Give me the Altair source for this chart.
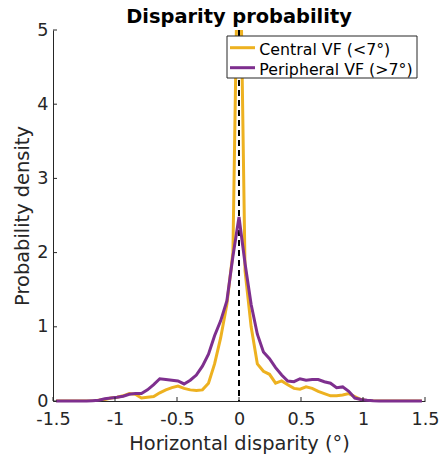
import altair as alt
import pandas as pd

# x grid (bin centres, degrees)
disparity = [-1.475, -1.426, -1.377, -1.328, -1.278, -1.229, -1.18, -1.131, -1.082, -1.033,
             -0.983, -0.934, -0.885, -0.836, -0.787, -0.738, -0.688, -0.639, -0.59, -0.541,
             -0.492, -0.443, -0.393, -0.344, -0.295, -0.246, -0.197, -0.148, -0.098, -0.049,
             0.0,
             0.049, 0.098, 0.148, 0.197, 0.246, 0.295, 0.344, 0.393, 0.443, 0.492,
             0.541, 0.59, 0.639, 0.688, 0.738, 0.787, 0.836, 0.885, 0.934, 0.983,
             1.033, 1.082, 1.131, 1.18, 1.229, 1.278, 1.328, 1.377, 1.426, 1.475]

central = [0, 0, 0, 0, 0, 0, 0, 0.01, 0.02, 0.04,
           0.05, 0.07, 0.1, 0.09, 0.04, 0.05, 0.06, 0.11, 0.15, 0.18,
           0.2, 0.17, 0.15, 0.14, 0.15, 0.24, 0.5, 0.85, 1.3, 2.0,
           7.3,
           1.75, 1.0, 0.5, 0.4, 0.36, 0.24, 0.27, 0.22, 0.17, 0.16,
           0.19, 0.17, 0.13, 0.1, 0.07, 0.07, 0.08, 0.1, 0.06, 0.02,
           0.005, 0, 0, 0, 0, 0, 0, 0, 0, 0]

peripheral = [0, 0, 0, 0, 0, 0, 0.005, 0.01, 0.03, 0.04,
              0.05, 0.065, 0.09, 0.1, 0.1, 0.15, 0.22, 0.3, 0.29, 0.28,
              0.27, 0.23, 0.28, 0.35, 0.47, 0.63, 0.88, 1.08, 1.35, 1.95,
              2.48,
              1.85, 1.3, 0.9, 0.66, 0.57, 0.45, 0.35, 0.27, 0.26, 0.3,
              0.28, 0.29, 0.29, 0.26, 0.24, 0.18, 0.19, 0.13, 0.04, 0.02,
              0.01, 0.003, 0, 0, 0, 0, 0, 0, 0, 0]

series_names = ["Central VF (<7°)", "Peripheral VF (>7°)"]
series_colors = ["#EDB120", "#7E2F8E"]

x_ticks = [-1.5, -1.0, -0.5, 0.0, 0.5, 1.0, 1.5]
y_ticks = [0, 1, 2, 3, 4, 5]
zero_line = [0.0]

W, H = 372, 371
FONT = "DejaVu Sans"
AX = "#262626"

df = pd.DataFrame({
    "x": disparity * 2,
    "y": central + peripheral,
    "series": [series_names[0]] * len(disparity) + [series_names[1]] * len(disparity),
})
df_xt = pd.DataFrame({"t": x_ticks})
df_yt = pd.DataFrame({"t": y_ticks})
df_zero = pd.DataFrame({"x": zero_line})
df_leg = pd.DataFrame({"series": series_names})

xscale = alt.Scale(domain=[-1.5, 1.5], nice=False, zero=False)
yscale = alt.Scale(domain=[0, 5], nice=False)
cscale = alt.Scale(domain=series_names, range=series_colors)
color = alt.Color("series:N", scale=cscale, legend=None)

xaxis = alt.Axis(values=x_ticks, labelExpr="'' + datum.value", title="Horizontal disparity (°)",
                 ticks=False, tickSize=0, labelPadding=9, grid=False, labelFlush=False,
                 titleY=48, titleBaseline="alphabetic",
                 labelFont=FONT, labelFontSize=17.6, labelColor=AX,
                 titleFont=FONT, titleFontSize=19.4, titleFontWeight="normal", titleColor=AX,
                 domainColor=AX, domainWidth=1)
yaxis = alt.Axis(values=y_ticks, labelExpr="'' + datum.value", title="Probability density",
                 ticks=False, tickSize=0, labelPadding=5, grid=False, labelFlush=False,
                 titleX=-24.6, titleBaseline="alphabetic",
                 labelFont=FONT, labelFontSize=17.6, labelColor=AX,
                 titleFont=FONT, titleFontSize=19.4, titleFontWeight="normal", titleColor=AX,
                 domainColor=AX, domainWidth=1)

base = alt.Chart(df)

central_line = base.transform_filter(alt.datum.series == series_names[0]).mark_line(
    strokeWidth=3, clip=True
).encode(
    x=alt.X("x:Q", scale=xscale, axis=xaxis),
    y=alt.Y("y:Q", scale=yscale, axis=yaxis),
    color=color,
)

zero_rule = alt.Chart(df_zero).mark_rule(color="black", strokeWidth=2, strokeDash=[6, 4]).encode(
    x=alt.X("x:Q", scale=xscale),
    y=alt.value(0),
    y2=alt.value(H),
)

periph_line = base.transform_filter(alt.datum.series == series_names[1]).mark_line(
    strokeWidth=3
).encode(
    x=alt.X("x:Q", scale=xscale),
    y=alt.Y("y:Q", scale=yscale),
    color=color,
)

xtick_marks = alt.Chart(df_xt).mark_rule(color=AX, strokeWidth=1).encode(
    x=alt.X("t:Q", scale=xscale),
    y=alt.value(H),
    y2=alt.value(H - 4),
)
ytick_marks = alt.Chart(df_yt).mark_rule(color=AX, strokeWidth=1).encode(
    y=alt.Y("t:Q", scale=yscale),
    x=alt.value(0),
    x2=alt.value(4),
)

# legend (box, line samples, labels)
leg_box = alt.Chart(df_leg.head(1)).mark_rect(fill="white", stroke=AX, strokeWidth=1).encode(
    x=alt.value(174), x2=alt.value(364), y=alt.value(6), y2=alt.value(48),
)
leg_layers = [leg_box]
for i, name in enumerate(series_names):
    row = df_leg.iloc[[i]]
    leg_layers.append(
        alt.Chart(row).mark_rule(strokeWidth=3).encode(
            x=alt.value(177), x2=alt.value(202), y=alt.value(17.7 + 20 * i),
            color=color,
        )
    )
    leg_layers.append(
        alt.Chart(row).mark_text(align="left", baseline="alphabetic", font=FONT,
                                 fontSize=15.8, color="black").encode(
            x=alt.value(206.3), y=alt.value(25 + 19.6 * i), text="series:N",
        )
    )

chart = alt.layer(central_line, zero_rule, periph_line, xtick_marks, ytick_marks,
                  *leg_layers).properties(
    width=W, height=H,
    title=alt.TitleParams("Disparity probability", font=FONT, fontSize=19.4, fontWeight="bold",
                          color="black", anchor="middle", baseline="alphabetic",
                          offset=0, dy=21.5),
    autosize=alt.AutoSizeParams(type="none"),
    padding={"left": 53, "top": 30, "right": 14, "bottom": 53},
    background="white",
).configure_view(stroke=None)

chart.save("out.html", embed_options={"renderer": "svg", "actions": False})
